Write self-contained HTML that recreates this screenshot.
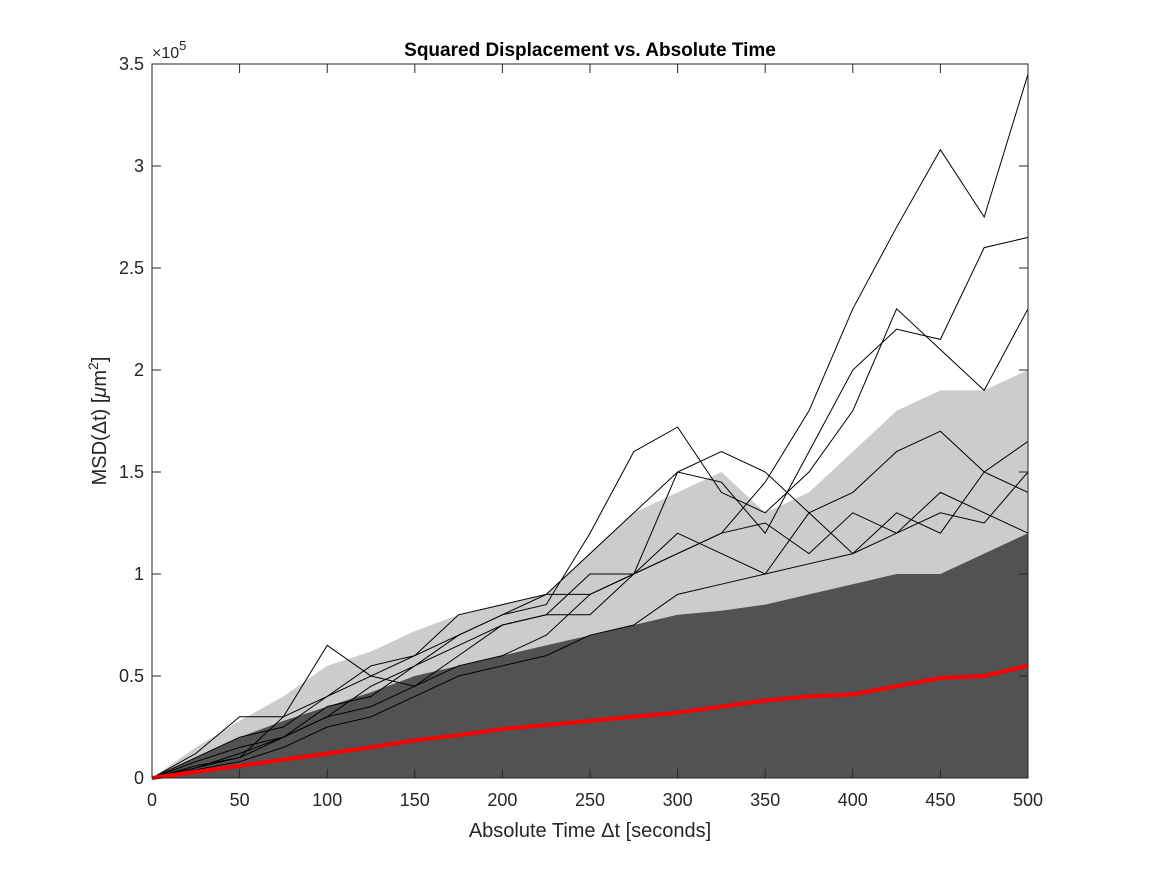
<!DOCTYPE html>
<html><head><meta charset="utf-8"><style>
body{margin:0;background:#fff}
svg{display:block;font-family:"Liberation Sans",sans-serif}
</style></head><body>
<svg id="chart" width="1167" height="875">
<rect x="0" y="0" width="1167" height="875" fill="#fff"/>
<g id="plot"></g>
<g id="axes"></g>
<text x="590" y="56" font-size="19" font-weight="bold" text-anchor="middle">Squared Displacement vs. Absolute Time</text>
<text x="590" y="837" font-size="20" text-anchor="middle" fill="#262626">Absolute Time Δt [seconds]</text>
<text transform="translate(106,421) rotate(-90)" font-size="20" text-anchor="middle" fill="#262626">MSD(Δt) [<tspan font-style="italic">μ</tspan>m<tspan dy="-8" font-size="14">2</tspan><tspan dy="8">]</tspan></text>
<text x="152" y="58" font-size="16" fill="#262626">×10<tspan dy="-8" font-size="13">5</tspan></text>
</svg>
<script>
const times=[0,25,50,75,100,125,150,175,200,225,250,275,300,325,350,375,400,425,450,475,500];
const meanMSD=[0,0.03,0.06,0.09,0.12,0.15,0.185,0.21,0.24,0.26,0.28,0.30,0.32,0.35,0.38,0.40,0.41,0.45,0.49,0.50,0.55];
const denseUpper=[0,0.1,0.2,0.28,0.35,0.42,0.5,0.55,0.6,0.65,0.7,0.75,0.8,0.82,0.85,0.9,0.95,1.0,1.0,1.1,1.2];
const sparseUpper=[0,0.15,0.28,0.4,0.55,0.62,0.72,0.8,0.85,0.9,1.1,1.3,1.4,1.5,1.3,1.4,1.6,1.8,1.9,1.9,2.0];
const trace1=[0,0.05,0.12,0.2,0.3,0.35,0.45,0.55,0.6,0.7,0.9,1.0,1.1,1.2,1.45,1.8,2.3,2.7,3.08,2.75,3.45];
const trace2=[0,0.08,0.15,0.2,0.3,0.45,0.55,0.7,0.8,0.85,1.2,1.6,1.72,1.4,1.3,1.5,1.8,2.3,2.1,1.9,2.3];
const trace3=[0,0.1,0.2,0.25,0.4,0.55,0.6,0.7,0.8,0.9,1.1,1.3,1.5,1.45,1.2,1.6,2.0,2.2,2.15,2.6,2.65];
const trace4=[0,0.05,0.1,0.3,0.4,0.5,0.45,0.6,0.75,0.8,1.0,1.0,1.2,1.1,1.0,1.3,1.4,1.6,1.7,1.5,1.65];
const trace5=[0,0.12,0.3,0.3,0.65,0.5,0.6,0.8,0.85,0.9,0.9,1.0,1.5,1.6,1.5,1.3,1.1,1.3,1.2,1.5,1.4];
const trace6=[0,0.06,0.1,0.2,0.35,0.4,0.55,0.65,0.75,0.8,0.8,1.0,1.1,1.2,1.25,1.1,1.3,1.2,1.4,1.3,1.2];
const trace7=[0,0.04,0.08,0.15,0.25,0.3,0.4,0.5,0.55,0.6,0.7,0.75,0.9,0.95,1.0,1.05,1.1,1.2,1.3,1.25,1.5];
const xTicks=[0,50,100,150,200,250,300,350,400,450,500];
const yTicks=[0,0.5,1,1.5,2,2.5,3,3.5];
const yTickLabels=["0","0.5","1","1.5","2","2.5","3","3.5"];
const X0=152,X1=1028,Y0=778,Y1=64;
const xs=t=>X0+(t/500)*(X1-X0);
const ys=v=>Y0-(v/3.5)*(Y0-Y1);
const NS="http://www.w3.org/2000/svg";
const plot=document.getElementById('plot'),axes=document.getElementById('axes');
function mk(tag,attrs,parent){const e=document.createElementNS(NS,tag);for(const k in attrs)e.setAttribute(k,attrs[k]);parent.appendChild(e);return e;}
function band(arr,op,name){
 let d='M'+xs(0)+','+ys(0);
 arr.forEach((v,i)=>d+=' L'+xs(times[i]).toFixed(1)+','+ys(v).toFixed(1));
 d+=' L'+xs(500)+','+ys(0)+' Z';
 const p=mk('path',{d:d,fill:'#000','fill-opacity':op},plot);
 
 
}
band(sparseUpper,0.2,'sparse-trace-band');
band(denseUpper,0.6,'dense-trace-band');
[trace1,trace2,trace3,trace4,trace5,trace6,trace7].forEach((tr,k)=>{
 const pts=tr.map((v,i)=>xs(times[i]).toFixed(1)+','+ys(v).toFixed(1)).join(' ');
 const l=mk('polyline',{points:pts,fill:'none',stroke:'#000','stroke-width':1},plot);
 
 
});
const mp=meanMSD.map((v,i)=>xs(times[i]).toFixed(1)+','+ys(v).toFixed(1)).join(' ');
const ml=mk('polyline',{points:mp,fill:'none',stroke:'#ff0000','stroke-width':4},plot);


const box=mk('rect',{x:X0,y:Y1,width:X1-X0,height:Y0-Y1,fill:'none',stroke:'#262626','stroke-width':1},axes);


xTicks.forEach(t=>{
 mk('line',{x1:xs(t),x2:xs(t),y1:Y0,y2:Y0-9,stroke:'#262626'},axes);
 mk('line',{x1:xs(t),x2:xs(t),y1:Y1,y2:Y1+9,stroke:'#262626'},axes);
 const tx=mk('text',{x:xs(t),y:Y0+28,'font-size':18,'text-anchor':'middle',fill:'#262626'},axes);
 tx.textContent=t;
 
 
});
yTicks.forEach((v,i)=>{
 mk('line',{x1:X0,x2:X0+9,y1:ys(v),y2:ys(v),stroke:'#262626'},axes);
 mk('line',{x1:X1,x2:X1-9,y1:ys(v),y2:ys(v),stroke:'#262626'},axes);
 const tx=mk('text',{x:X0-8,y:ys(v)+6,'font-size':18,'text-anchor':'end',fill:'#262626'},axes);
 tx.textContent=yTickLabels[i];
 
 
});
</script>
</body></html>
